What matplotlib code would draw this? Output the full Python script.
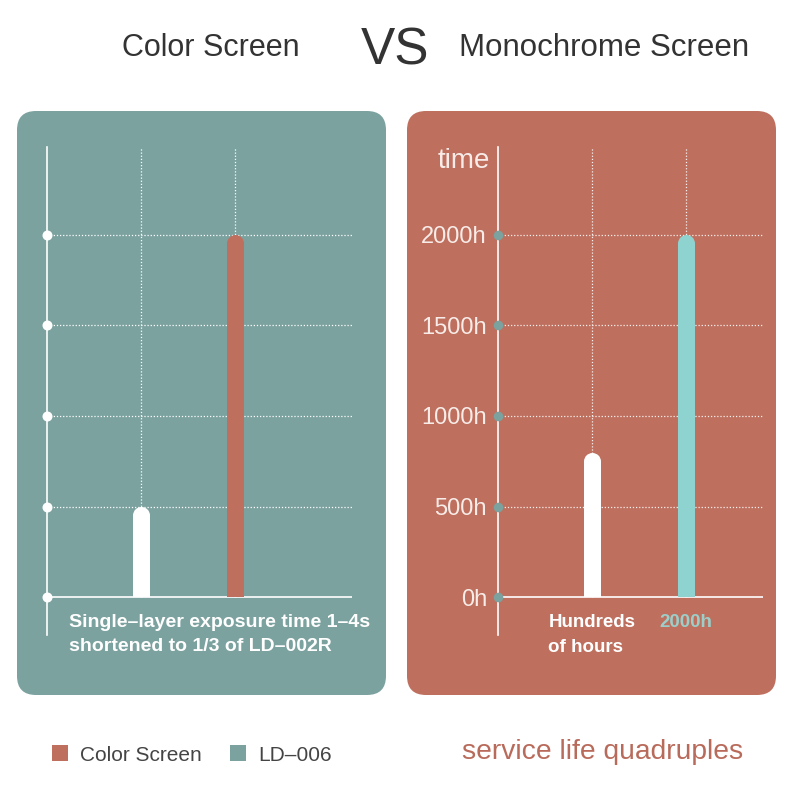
import matplotlib.pyplot as plt
from matplotlib.patches import FancyBboxPatch, Patch

plt.rcParams['font.family'] = ['Liberation Sans', 'DejaVu Sans']

W = H = 794

# left panel: exposure time (unlabelled levels)
left_levels = [0, 1, 2, 3, 4]
left_values = [1, 4]            # LD-006, Color Screen
left_colors = ['white', '#BE6F5E']

# right panel: service life in hours
right_ticks = [0, 500, 1000, 1500, 2000]
right_ticklabels = ['0h', '500h', '1000h', '1500h', '2000h']
right_values = [800, 2000]      # color screen, monochrome
right_colors = ['white', '#8ED3CF']
right_names = ['Hundreds\nof hours', '2000h']
right_name_colors = ['white', '#9CCFC9']

legend_names = ['Color Screen', 'LD–006']
legend_colors = ['#BE6F5E', '#7BA29F']

teal = '#7BA29F'
rust = '#BE6F5E'


def fx(x):
    return x / W


def fy(y):
    return 1 - y / H


def panel_axes(x0, x1, top, bottom, base, ymax_px, ymax_val, xmax):
    ax = fig.add_axes([fx(x0), fy(bottom), (x1 - x0) / W, (bottom - top) / H])
    ax.set_facecolor('none')
    per_px = ymax_val / (base - ymax_px)
    ax.set_ylim(-(bottom - base) * per_px, (base - top) * per_px)
    ax.set_xlim(0, xmax)
    for s in ['top', 'right', 'bottom']:
        ax.spines[s].set_visible(False)
    ax.spines['left'].set_color('white')
    ax.spines['left'].set_linewidth(1.2)
    ax.set_xticks([])
    return ax, per_px


def round_bar(ax, x, v, color, per_px, width_px=17):
    r = width_px / 2 * per_px
    ax.bar(x, v - r, width=width_px / 94, color=color, linewidth=0, zorder=3)
    ax.scatter([x], [v - r], s=(width_px * 0.72) ** 2, color=color,
               linewidths=0, zorder=3)


fig = plt.figure(figsize=(7.94, 7.94), dpi=100)

# background cards
for x0, c in [(17, teal), (407, rust)]:
    fig.patches.append(FancyBboxPatch((fx(x0), fy(695)), 369 / W, 584 / H,
                                      boxstyle='round,pad=0,rounding_size=0.024',
                                      transform=fig.transFigure, facecolor=c,
                                      edgecolor='none', zorder=-10))

# ---- left chart
axL, pL = panel_axes(47, 352, 147, 635, 597, 235, 4, 305 / 94)
axL.set_yticks([])
top = axL.get_ylim()[1]
for y in left_levels[1:]:
    axL.axhline(y, color='white', lw=0.9, ls=(0, (1, 1.5)), zorder=1)
axL.axhline(0, color='white', lw=1.2, zorder=2)
axL.vlines([1, 2], 0, top, color='white', lw=0.9, ls=(0, (1, 1.5)), zorder=1)
axL.scatter([0] * len(left_levels), left_levels, s=52, color='white',
            linewidths=0, clip_on=False, zorder=4)
for i, (v, c) in enumerate(zip(left_values, left_colors)):
    round_bar(axL, i + 1, v, c, pL)

fig.text(fx(69), fy(614), 'Single–layer exposure time 1–4s\nshortened to 1/3 of LD–002R',
         color='white', fontsize=14, fontweight='bold', va='top', ha='left',
         linespacing=1.55)

# ---- right chart
axR, pR = panel_axes(498, 763, 147, 635, 597, 235, 2000, 265 / 94)
axR.set_yticks(right_ticks, right_ticklabels)
axR.tick_params(axis='y', length=0, pad=8, labelsize=17, labelcolor='#F8ECE8')
top = axR.get_ylim()[1]
for y in right_ticks[1:]:
    axR.axhline(y, color='white', lw=0.9, ls=(0, (1, 1.5)), zorder=1, alpha=0.9)
axR.axhline(0, color='white', lw=1.2, zorder=2)
axR.vlines([1, 2], 0, top, color='white', lw=0.9, ls=(0, (1, 1.5)), zorder=1, alpha=0.9)
axR.scatter([0] * len(right_ticks), right_ticks, s=48, color=teal,
            linewidths=0, clip_on=False, zorder=4)
for i, (v, c) in enumerate(zip(right_values, right_colors)):
    round_bar(axR, i + 1, v, c, pR)
for i, (n, c) in enumerate(zip(right_names, right_name_colors)):
    axR.text(i + 1, -17 * pR, n, color=c, fontsize=13.5, fontweight='bold',
             ha='center', va='top', multialignment='left', linespacing=1.6)

fig.text(fx(490), fy(161), 'time', color='#F8ECE8', fontsize=20,
         ha='right', va='center')

# ---- titles
fig.text(fx(211), fy(48), 'Color Screen', fontsize=22, color='#333333',
         ha='center', va='center')
fig.text(fx(395), fy(51), 'VS', fontsize=37, color='#333333',
         ha='center', va='center')
fig.text(fx(604), fy(48), 'Monochrome Screen', fontsize=22.5, color='#333333',
         ha='center', va='center')

# ---- legend and note
handles = [Patch(facecolor=c, edgecolor='none') for c in legend_colors]
fig.legend(handles, legend_names, loc='center left',
           bbox_to_anchor=(fx(33), fy(755)), ncol=2, frameon=False,
           fontsize=15, labelcolor='#444444', handlelength=0.8,
           handleheight=0.8, handletextpad=0.55, columnspacing=1.35)

fig.text(fx(603), fy(752), 'service life quadruples', fontsize=20.3,
         color='#B96B5B', ha='center', va='center')

fig.savefig('out.png', dpi=100, facecolor='white')
